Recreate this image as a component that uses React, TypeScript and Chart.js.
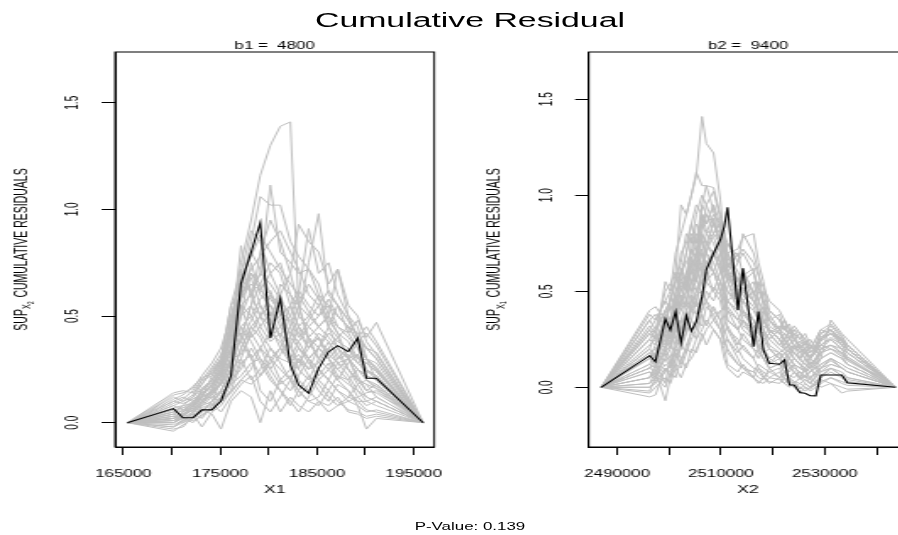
import React, { useEffect, useRef } from 'react';
import { Chart, registerables } from 'chart.js';

Chart.register(...registerables);

// horizontal stretch of the reference picture
const S = 1.69;
const FONT = "'Liberation Sans', Arial, Helvetica, sans-serif";

const mainTitle = 'Cumulative Residual';
const pValueText = 'P-Value: 0.139';

const yTicks = [0, 0.5, 1.0, 1.5];
const yTickLabels = ['0.0', '0.5', '1.0', '1.5'];

// ---------------- left panel (X1) ----------------
const leftSubtitle = 'b1 =  4800';
const leftXTitle = 'X1';
const leftYSub = ['X', '2'];
const leftXTicks = [165000, 170000, 175000, 180000, 185000, 190000, 195000];
const leftXTickLabels = ['165000', '', '175000', '', '185000', '', '195000'];

const leftX = [165400, 170170, 171150, 172180, 173110, 174150, 175080, 176110, 177150, 178200, 179140, 180180,
  181210, 182250, 183100, 184140, 185170, 186200, 187140, 188240, 189210, 190110, 191140, 195970];

const leftObserved = [0, 0.066, 0.023, 0.023, 0.06, 0.06, 0.102, 0.219, 0.653, 0.80, 0.938, 0.396,
  0.583, 0.27, 0.177, 0.138, 0.255, 0.333, 0.361, 0.333, 0.396, 0.208, 0.208, 0];

const leftSimulated = [
  [0, 0.02, 0.05, 0.08, 0.12, 0.15, 0.22, 0.45, 0.75, 0.95, 1.16, 1.3, 1.39, 1.41, 0.55, 0.38, 0.3, 0.35, 0.28, 0.3, 0.22, 0.15, 0.18, 0],
  [0, 0.14, 0.15, 0.14, 0.18, 0.25, 0.3, 0.55, 0.62, 0.85, 1.06, 1.02, 1.02, 0.85, 0.78, 0.72, 0.6, 0.55, 0.5, 0.45, 0.38, 0.35, 0.3, 0],
  [0, 0.12, 0.1, 0.13, 0.2, 0.22, 0.28, 0.4, 0.83, 0.6, 0.7, 1.114, 0.8, 0.75, 0.7, 0.72, 0.65, 0.5, 0.45, 0.42, 0.48, 0.4, 0.47, 0],
  [0, -0.03, -0.02, 0.03, 0.05, 0.1, 0.15, 0.25, 0.4, 0.55, 0.65, 0.5, 0.6, 0.7, 0.93, 0.85, 0.8, 0.65, 0.72, 0.55, 0.5, 0.38, 0.32, 0],
  [0, 0.05, 0.04, 0.06, 0.1, 0.15, 0.18, 0.3, 0.5, 0.75, 0.6, 0.55, 0.45, 0.5, 0.6, 0.91, 0.7, 0.75, 0.6, 0.5, 0.45, 0.3, 0.28, 0],
  [0, 0.03, 0.02, 0.0, 0.04, 0.06, 0.12, 0.2, 0.35, 0.45, 0.5, 0.6, 0.55, 0.4, 0.5, 0.75, 0.98, 0.6, 0.55, 0.42, 0.35, 0.3, 0.25, 0],
  [0, -0.02, 0.0, 0.05, 0.08, 0.12, 0.1, 0.18, 0.3, 0.42, 0.35, 0.3, 0.25, 0.2, 0.15, 0.1, 0.12, 0.2, 0.15, 0.1, 0.08, -0.03, 0.02, 0],
  [0, 0.01, 0.03, 0.07, 0.15, 0.2, 0.25, 0.35, 0.6, 0.7, 0.65, 0.75, 0.7, 0.55, 0.45, 0.35, 0.4, 0.3, 0.25, 0.3, 0.25, 0.22, 0.2, 0],
  [0, 0.0, 0.02, 0.04, -0.02, 0.05, 0.08, 0.15, 0.2, 0.25, 0.35, 0.42, 0.38, 0.3, 0.25, 0.4, 0.45, 0.5, 0.72, 0.5, 0.4, 0.45, 0.38, 0],
  [0, -0.04, -0.01, 0.02, 0.06, 0.04, -0.03, 0.1, 0.15, 0.12, 0.0, 0.15, 0.05, 0.12, 0.08, 0.05, 0.1, 0.08, 0.12, 0.05, 0.04, 0.02, 0.03, 0],
  [0, 0.06, 0.05, 0.1, 0.12, 0.18, 0.22, 0.45, 0.55, 0.6, 0.5, 0.45, 0.65, 0.6, 0.55, 0.5, 0.45, 0.4, 0.35, 0.3, 0.32, 0.25, 0.22, 0],
  [0, 0.02, 0.03, 0.06, 0.1, 0.08, 0.15, 0.25, 0.3, 0.2, 0.25, 0.35, 0.28, 0.2, 0.12, 0.18, 0.25, 0.2, 0.28, 0.22, 0.15, 0.1, 0.12, 0],
  [0, 0.04, 0.06, 0.05, 0.09, 0.13, 0.2, 0.35, 0.45, 0.5, 0.58, 0.62, 0.5, 0.42, 0.38, 0.3, 0.35, 0.42, 0.38, 0.35, 0.3, 0.28, 0.24, 0],
  [0, 0.08, 0.1, 0.12, 0.16, 0.2, 0.28, 0.38, 0.42, 0.3, 0.22, 0.3, 0.2, 0.25, 0.3, 0.22, 0.15, 0.1, 0.18, 0.15, 0.08, 0.05, 0.06, 0],
  [0, 0.02, 0.0, 0.02, 0.05, 0.1, 0.2, 0.3, 0.65, 0.8, 0.72, 0.6, 0.5, 0.55, 0.45, 0.4, 0.3, 0.25, 0.2, 0.28, 0.32, 0.2, 0.18, 0],
  [0, 0.0, 0.02, 0.03, 0.06, 0.08, 0.12, 0.2, 0.25, 0.35, 0.28, 0.2, 0.15, 0.1, 0.05, 0.12, 0.2, 0.25, 0.3, 0.35, 0.28, 0.3, 0.26, 0],
  [0, 0.05, 0.07, 0.1, 0.14, 0.16, 0.25, 0.4, 0.7, 0.9, 0.85, 0.7, 0.6, 0.45, 0.35, 0.3, 0.25, 0.2, 0.15, 0.12, 0.1, 0.1, 0.08, 0],
  [0, 0.1, 0.12, 0.1, 0.13, 0.18, 0.24, 0.32, 0.5, 0.55, 0.45, 0.52, 0.4, 0.55, 0.62, 0.55, 0.5, 0.55, 0.45, 0.4, 0.35, 0.25, 0.2, 0],
  [0, -0.02, 0.01, 0.04, 0.02, 0.08, 0.1, 0.15, 0.28, 0.32, 0.15, 0.1, 0.2, 0.15, 0.22, 0.3, 0.35, 0.3, 0.25, 0.2, 0.12, 0.08, 0.1, 0],
  [0, 0.03, 0.04, 0.08, 0.12, 0.14, 0.18, 0.28, 0.55, 0.4, 0.45, 0.38, 0.42, 0.35, 0.45, 0.5, 0.6, 0.45, 0.4, 0.3, 0.2, 0.15, 0.14, 0],
  [0, 0.07, 0.08, 0.09, 0.11, 0.12, 0.15, 0.22, 0.35, 0.45, 0.4, 0.3, 0.35, 0.28, 0.32, 0.25, 0.28, 0.35, 0.4, 0.45, 0.42, 0.35, 0.33, 0],
  [0, 0.01, 0.02, 0.05, 0.1, 0.16, 0.26, 0.5, 0.6, 0.68, 0.55, 0.48, 0.4, 0.3, 0.2, 0.15, 0.1, 0.05, 0.08, 0.1, 0.12, 0.14, 0.15, 0],
  [0, 0.04, 0.03, 0.06, 0.12, 0.22, 0.3, 0.45, 0.5, 0.62, 0.7, 0.65, 0.58, 0.5, 0.42, 0.35, 0.4, 0.32, 0.28, 0.25, 0.2, 0.18, 0.16, 0],
  [0, 0.02, 0.04, 0.02, 0.08, 0.1, 0.14, 0.18, 0.22, 0.28, 0.3, 0.25, 0.32, 0.4, 0.35, 0.3, 0.2, 0.15, 0.1, 0.06, 0.05, 0.03, 0.04, 0],
  [0, 0.09, 0.11, 0.15, 0.2, 0.26, 0.32, 0.42, 0.58, 0.65, 0.62, 0.7, 0.75, 0.6, 0.5, 0.45, 0.5, 0.58, 0.5, 0.45, 0.38, 0.3, 0.25, 0],
  [0, 0.13, 0.14, 0.16, 0.22, 0.28, 0.35, 0.5, 0.68, 0.78, 0.88, 0.8, 0.72, 0.65, 0.6, 0.52, 0.45, 0.5, 0.42, 0.38, 0.3, 0.28, 0.24, 0],
  [0, -0.01, 0.01, 0.03, 0.07, 0.09, 0.05, 0.12, 0.18, 0.22, 0.1, 0.05, 0.12, 0.2, 0.3, 0.25, 0.35, 0.45, 0.55, 0.48, 0.4, 0.3, 0.2, 0],
  [0, 0.05, 0.08, 0.12, 0.18, 0.24, 0.3, 0.55, 0.72, 0.6, 0.5, 0.4, 0.45, 0.38, 0.25, 0.2, 0.3, 0.38, 0.32, 0.25, 0.18, 0.12, 0.1, 0],
  [0, 0.03, 0.01, 0.04, 0.09, 0.14, 0.22, 0.35, 0.38, 0.48, 0.55, 0.45, 0.35, 0.45, 0.55, 0.65, 0.58, 0.48, 0.42, 0.3, 0.25, 0.22, 0.2, 0],
  [0, 0.06, 0.07, 0.08, 0.1, 0.15, 0.18, 0.25, 0.45, 0.38, 0.3, 0.22, 0.15, 0.08, 0.15, 0.22, 0.18, 0.12, 0.08, 0.12, 0.18, 0.2, 0.16, 0],
  [0, 0.0, 0.03, 0.08, 0.16, 0.2, 0.27, 0.42, 0.62, 0.72, 0.78, 0.85, 0.9, 0.8, 0.72, 0.6, 0.55, 0.45, 0.35, 0.25, 0.2, 0.18, 0.12, 0],
  [0, 0.1, 0.09, 0.11, 0.14, 0.17, 0.22, 0.3, 0.32, 0.42, 0.5, 0.55, 0.48, 0.35, 0.28, 0.35, 0.42, 0.38, 0.3, 0.32, 0.28, 0.24, 0.22, 0],
  [0, 0.02, 0.05, 0.09, 0.11, 0.13, 0.18, 0.28, 0.4, 0.55, 0.8, 0.95, 0.85, 0.7, 0.55, 0.4, 0.35, 0.3, 0.22, 0.18, 0.15, 0.12, 0.1, 0],
  [0, 0.04, 0.02, 0.01, 0.03, 0.07, 0.1, 0.14, 0.2, 0.18, 0.22, 0.28, 0.35, 0.3, 0.38, 0.45, 0.4, 0.3, 0.35, 0.3, 0.38, 0.42, 0.36, 0],
  [0, 0.08, 0.06, 0.09, 0.15, 0.19, 0.23, 0.38, 0.55, 0.5, 0.42, 0.35, 0.3, 0.28, 0.35, 0.28, 0.22, 0.28, 0.2, 0.15, 0.1, 0.06, 0.05, 0],
  [0, 0.01, 0.04, 0.07, 0.13, 0.18, 0.26, 0.48, 0.58, 0.7, 0.62, 0.58, 0.52, 0.48, 0.4, 0.48, 0.55, 0.62, 0.55, 0.48, 0.4, 0.35, 0.3, 0],
  [0, 0.11, 0.13, 0.17, 0.21, 0.23, 0.29, 0.33, 0.38, 0.3, 0.35, 0.25, 0.18, 0.22, 0.15, 0.1, 0.08, 0.15, 0.22, 0.2, 0.25, 0.2, 0.17, 0],
];

// ---------------- right panel (X2) ----------------
const rightSubtitle = 'b2 =  9400';
const rightXTitle = 'X2';
const rightYSub = ['X', '1'];
const rightXTicks = [2490000, 2500000, 2510000, 2520000, 2530000, 2540000];
const rightXTickLabels = ['2490000', '', '2510000', '', '2530000', ''];

const rightX = [2486920,
  2496270, 2497370, 2499290, 2500250, 2501270,
  2502310, 2503330, 2504290, 2505250, 2506350,
  2507170, 2508580, 2509870, 2510640, 2511270,
  2513270, 2514230, 2516270, 2517230, 2518190,
  2519290, 2521270, 2522230, 2523190, 2524100,
  2525250, 2526210, 2527180, 2528270, 2529230,
  2531150, 2533270, 2534350, 2543650];

const rightObserved = [0,
  0.165, 0.133, 0.356, 0.298, 0.394,
  0.232, 0.373, 0.293, 0.342, 0.472,
  0.611, 0.698, 0.767, 0.837, 0.9375,
  0.403, 0.62, 0.211, 0.394, 0.194,
  0.125, 0.12, 0.142, 0.012, 0.012,
  -0.028, -0.031, -0.044, -0.045, 0.064,
  0.064, 0.064, 0.024, 0];

const rightSimulated = [
  [0, 0.3, 0.25, 0.55, 0.5, 0.7, 0.8, 0.9, 1.0, 1.1, 1.41, 1.27, 1.22, 0.98, 0.75, 0.7, 0.6, 0.55, 0.5, 0.4, 0.35, 0.3, 0.25, 0.2, 0.22, 0.18, 0.15, 0.12, 0.1, 0.15, 0.2, 0.25, 0.2, 0.18, 0],
  [0, 0.05, 0.1, 0.3, 0.45, 0.6, 0.95, 0.9, 1.0, 1.12, 1.05, 1.05, 1.04, 0.9, 0.8, 0.7, 0.55, 0.5, 0.45, 0.4, 0.3, 0.2, 0.15, 0.1, 0.12, 0.08, 0.05, 0.04, 0.02, 0.06, 0.1, 0.15, 0.12, 0.1, 0],
  [0, 0.4, 0.42, 0.35, 0.3, 0.38, 0.45, 0.5, 0.62, 0.7, 0.8, 0.75, 0.85, 0.8, 0.72, 0.6, 0.45, 0.35, 0.25, 0.2, 0.15, 0.1, 0.05, 0.08, 0.04, 0.02, 0.05, 0.02, 0.0, 0.03, 0.05, 0.08, 0.05, 0.03, 0],
  [0, -0.05, -0.04, 0.1, 0.05, 0.15, 0.2, 0.3, 0.45, 0.6, 0.9, 0.85, 0.95, 0.7, 0.5, 0.4, 0.3, 0.35, 0.3, 0.2, 0.25, 0.2, 0.18, 0.15, 0.1, 0.12, 0.1, 0.08, 0.05, 0.08, 0.1, 0.12, 0.1, 0.08, 0],
  [0, 0.2, 0.15, 0.28, 0.35, 0.5, 0.55, 0.7, 0.85, 0.75, 0.95, 0.9, 0.8, 0.85, 0.6, 0.55, 0.65, 0.8, 0.7, 0.6, 0.45, 0.35, 0.3, 0.25, 0.2, 0.18, 0.15, 0.2, 0.22, 0.18, 0.25, 0.3, 0.25, 0.2, 0],
  [0, 0.1, 0.08, -0.07, 0.05, 0.12, 0.1, 0.18, 0.25, 0.3, 0.45, 0.55, 0.5, 0.6, 0.65, 0.7, 0.72, 0.78, 0.8, 0.65, 0.55, 0.4, 0.35, 0.3, 0.28, 0.3, 0.25, 0.28, 0.22, 0.2, 0.25, 0.28, 0.22, 0.18, 0],
  [0, 0.15, 0.18, 0.3, 0.25, 0.35, 0.4, 0.45, 0.55, 0.6, 0.7, 0.8, 0.9, 0.85, 0.75, 0.6, 0.5, 0.4, 0.3, 0.25, 0.2, 0.15, 0.12, 0.1, 0.15, 0.12, 0.1, 0.08, 0.12, 0.15, 0.2, 0.22, 0.18, 0.15, 0],
  [0, 0.02, 0.05, 0.15, 0.2, 0.3, 0.25, 0.35, 0.4, 0.5, 0.55, 0.6, 0.5, 0.45, 0.35, 0.3, 0.2, 0.15, 0.1, 0.08, 0.05, 0.03, 0.02, 0.05, 0.03, 0.01, 0.0, -0.02, 0.0, 0.02, 0.05, 0.1, 0.08, 0.05, 0],
  [0, 0.25, 0.3, 0.5, 0.54, 0.6, 0.5, 0.55, 0.65, 0.8, 0.75, 0.7, 0.65, 0.55, 0.5, 0.45, 0.4, 0.45, 0.35, 0.3, 0.28, 0.22, 0.18, 0.2, 0.15, 0.12, 0.1, 0.15, 0.12, 0.1, 0.15, 0.35, 0.28, 0.25, 0],
  [0, 0.08, 0.05, 0.12, 0.1, 0.2, 0.15, 0.2, 0.18, 0.25, 0.3, 0.35, 0.3, 0.25, 0.15, 0.1, 0.05, 0.08, 0.05, 0.02, 0.05, 0.08, 0.1, 0.05, 0.02, 0.0, -0.03, 0.0, -0.02, 0.0, 0.02, 0.05, 0.03, 0.02, 0],
  [0, 0.35, 0.3, 0.4, 0.45, 0.55, 0.65, 0.8, 0.75, 0.9, 1.0, 0.95, 0.85, 0.75, 0.7, 0.65, 0.55, 0.6, 0.5, 0.45, 0.4, 0.35, 0.3, 0.28, 0.25, 0.22, 0.2, 0.18, 0.15, 0.2, 0.22, 0.25, 0.2, 0.16, 0],
  [0, 0.12, 0.1, 0.2, 0.25, 0.3, 0.35, 0.3, 0.4, 0.45, 0.55, 0.65, 0.7, 0.6, 0.55, 0.5, 0.42, 0.38, 0.32, 0.28, 0.25, 0.28, 0.22, 0.2, 0.18, 0.22, 0.18, 0.15, 0.1, 0.12, 0.15, 0.18, 0.15, 0.12, 0],
  [0, 0.0, 0.02, 0.08, 0.12, 0.2, 0.3, 0.4, 0.5, 0.55, 0.65, 0.7, 0.6, 0.5, 0.4, 0.3, 0.25, 0.2, 0.15, 0.1, 0.08, 0.05, 0.04, 0.02, 0.05, 0.03, 0.02, 0.04, 0.02, 0.01, 0.03, 0.05, 0.02, 0.01, 0],
  [0, 0.3, 0.35, 0.45, 0.4, 0.5, 0.6, 0.65, 0.7, 0.85, 0.8, 0.75, 0.7, 0.65, 0.55, 0.5, 0.45, 0.5, 0.55, 0.45, 0.35, 0.3, 0.25, 0.22, 0.25, 0.3, 0.28, 0.25, 0.2, 0.22, 0.28, 0.3, 0.25, 0.2, 0],
  [0, -0.03, 0.0, 0.05, 0.02, 0.1, 0.05, 0.12, 0.15, 0.2, 0.25, 0.3, 0.35, 0.4, 0.3, 0.25, 0.15, 0.1, 0.05, 0.03, 0.02, 0.05, 0.08, 0.04, 0.02, 0.0, 0.02, 0.0, -0.01, 0.02, 0.0, 0.02, -0.03, -0.02, 0],
  [0, 0.18, 0.2, 0.25, 0.3, 0.4, 0.5, 0.6, 0.72, 0.65, 0.6, 0.55, 0.6, 0.7, 0.65, 0.6, 0.5, 0.45, 0.4, 0.35, 0.3, 0.25, 0.2, 0.18, 0.15, 0.2, 0.22, 0.2, 0.15, 0.18, 0.22, 0.2, 0.18, 0.15, 0],
  [0, 0.1, 0.12, 0.18, 0.22, 0.35, 0.45, 0.55, 0.6, 0.7, 0.85, 0.8, 0.75, 0.65, 0.5, 0.35, 0.3, 0.25, 0.2, 0.18, 0.15, 0.12, 0.15, 0.18, 0.12, 0.1, 0.08, 0.05, 0.08, 0.1, 0.12, 0.15, 0.12, 0.1, 0],
  [0, 0.22, 0.25, 0.35, 0.3, 0.45, 0.4, 0.5, 0.6, 0.55, 0.7, 0.65, 0.6, 0.55, 0.45, 0.4, 0.35, 0.3, 0.25, 0.3, 0.35, 0.3, 0.25, 0.2, 0.22, 0.25, 0.2, 0.15, 0.12, 0.15, 0.18, 0.2, 0.17, 0.14, 0],
  [0, 0.05, 0.08, 0.2, 0.15, 0.25, 0.2, 0.28, 0.35, 0.3, 0.4, 0.45, 0.4, 0.35, 0.25, 0.2, 0.12, 0.1, 0.08, 0.12, 0.1, 0.08, 0.05, 0.06, 0.1, 0.08, 0.05, 0.06, 0.08, 0.1, 0.08, 0.12, 0.1, 0.08, 0],
  [0, 0.28, 0.3, 0.4, 0.45, 0.55, 0.7, 0.75, 0.85, 0.95, 0.9, 0.85, 0.95, 0.85, 0.8, 0.75, 0.65, 0.7, 0.6, 0.5, 0.45, 0.35, 0.28, 0.25, 0.2, 0.15, 0.12, 0.1, 0.15, 0.2, 0.25, 0.3, 0.22, 0.2, 0],
  [0, 0.15, 0.12, 0.22, 0.28, 0.32, 0.3, 0.4, 0.45, 0.5, 0.6, 0.7, 0.8, 0.75, 0.6, 0.55, 0.4, 0.45, 0.5, 0.4, 0.3, 0.25, 0.3, 0.35, 0.3, 0.25, 0.22, 0.18, 0.2, 0.25, 0.3, 0.28, 0.25, 0.22, 0],
  [0, 0.0, 0.03, 0.1, 0.08, 0.15, 0.25, 0.35, 0.42, 0.48, 0.5, 0.45, 0.35, 0.3, 0.25, 0.18, 0.12, 0.1, 0.08, 0.05, 0.04, 0.1, 0.12, 0.08, 0.06, 0.05, 0.08, 0.06, 0.04, 0.03, 0.06, 0.1, 0.06, 0.04, 0],
  [0, 0.38, 0.35, 0.45, 0.5, 0.55, 0.6, 0.7, 0.8, 0.75, 0.85, 0.9, 0.85, 0.75, 0.65, 0.55, 0.45, 0.4, 0.35, 0.3, 0.32, 0.3, 0.28, 0.25, 0.3, 0.28, 0.25, 0.22, 0.18, 0.2, 0.25, 0.28, 0.24, 0.2, 0],
  [0, 0.1, 0.15, 0.25, 0.2, 0.3, 0.35, 0.45, 0.55, 0.5, 0.6, 0.65, 0.6, 0.5, 0.45, 0.35, 0.3, 0.35, 0.28, 0.22, 0.2, 0.15, 0.18, 0.15, 0.12, 0.15, 0.12, 0.1, 0.08, 0.12, 0.15, 0.18, 0.15, 0.12, 0],
  [0, 0.2, 0.28, 0.22, 0.35, 0.3, 0.48, 0.42, 0.65, 0.55, 0.78, 0.7, 0.88, 0.75, 0.82, 0.62, 0.7, 0.58, 0.62, 0.45, 0.5, 0.38, 0.3, 0.35, 0.25, 0.28, 0.2, 0.24, 0.18, 0.22, 0.28, 0.32, 0.26, 0.22, 0],
  [0, 0.05, 0.12, 0.02, 0.15, 0.1, 0.22, 0.18, 0.3, 0.25, 0.38, 0.32, 0.42, 0.35, 0.28, 0.32, 0.22, 0.28, 0.2, 0.15, 0.2, 0.12, 0.18, 0.1, 0.08, 0.12, 0.05, 0.1, 0.04, 0.08, 0.12, 0.15, 0.1, 0.08, 0],
  [0, 0.32, 0.28, 0.4, 0.35, 0.48, 0.42, 0.6, 0.55, 0.68, 0.62, 0.75, 0.68, 0.78, 0.6, 0.65, 0.55, 0.62, 0.48, 0.55, 0.42, 0.35, 0.38, 0.3, 0.33, 0.25, 0.28, 0.22, 0.25, 0.2, 0.26, 0.3, 0.24, 0.2, 0],
  [0, 0.12, 0.18, 0.32, 0.25, 0.42, 0.55, 0.5, 0.68, 0.62, 0.8, 0.95, 1.02, 0.88, 0.72, 0.68, 0.55, 0.48, 0.42, 0.35, 0.4, 0.28, 0.32, 0.22, 0.18, 0.22, 0.15, 0.18, 0.12, 0.15, 0.2, 0.22, 0.18, 0.14, 0],
  [0, -0.02, 0.05, 0.0, 0.08, 0.05, 0.15, 0.1, 0.2, 0.18, 0.28, 0.22, 0.3, 0.25, 0.2, 0.12, 0.08, 0.12, 0.05, 0.1, 0.06, 0.02, 0.05, 0.02, 0.0, 0.03, -0.01, 0.02, 0.0, 0.01, 0.04, 0.02, 0.0, -0.01, 0],
  [0, 0.25, 0.22, 0.35, 0.42, 0.38, 0.52, 0.58, 0.5, 0.65, 0.72, 0.62, 0.7, 0.78, 0.7, 0.75, 0.68, 0.72, 0.65, 0.58, 0.52, 0.45, 0.4, 0.35, 0.3, 0.25, 0.2, 0.18, 0.15, 0.12, 0.18, 0.22, 0.2, 0.15, 0],
  [0, 0.08, 0.05, 0.18, 0.12, 0.22, 0.35, 0.28, 0.48, 0.42, 0.62, 0.55, 0.7, 0.62, 0.55, 0.45, 0.38, 0.32, 0.28, 0.22, 0.18, 0.2, 0.15, 0.12, 0.18, 0.15, 0.12, 0.08, 0.1, 0.06, 0.1, 0.14, 0.1, 0.08, 0],
  [0, 0.18, 0.15, 0.28, 0.22, 0.32, 0.28, 0.38, 0.35, 0.45, 0.4, 0.5, 0.45, 0.55, 0.48, 0.42, 0.35, 0.4, 0.32, 0.28, 0.35, 0.3, 0.25, 0.28, 0.22, 0.2, 0.24, 0.2, 0.16, 0.2, 0.24, 0.28, 0.24, 0.2, 0],
  [0, 0.35, 0.38, 0.32, 0.48, 0.42, 0.62, 0.55, 0.72, 0.68, 0.9, 0.82, 0.78, 0.7, 0.62, 0.58, 0.48, 0.52, 0.45, 0.38, 0.42, 0.32, 0.28, 0.32, 0.26, 0.22, 0.18, 0.2, 0.15, 0.18, 0.22, 0.26, 0.22, 0.18, 0],
  [0, 0.02, 0.08, 0.15, 0.1, 0.18, 0.12, 0.22, 0.28, 0.35, 0.32, 0.42, 0.38, 0.3, 0.22, 0.25, 0.18, 0.22, 0.15, 0.2, 0.15, 0.1, 0.12, 0.08, 0.05, 0.08, 0.04, 0.06, 0.02, 0.05, 0.08, 0.1, 0.06, 0.05, 0],
  [0, 0.15, 0.22, 0.38, 0.32, 0.45, 0.6, 0.52, 0.78, 0.7, 0.95, 1.05, 0.92, 0.82, 0.7, 0.62, 0.52, 0.58, 0.45, 0.4, 0.35, 0.28, 0.22, 0.25, 0.2, 0.18, 0.14, 0.12, 0.1, 0.14, 0.18, 0.2, 0.16, 0.12, 0],
  [0, 0.28, 0.25, 0.2, 0.3, 0.25, 0.35, 0.32, 0.42, 0.38, 0.48, 0.45, 0.52, 0.48, 0.4, 0.45, 0.5, 0.55, 0.6, 0.52, 0.45, 0.4, 0.35, 0.3, 0.28, 0.32, 0.28, 0.25, 0.2, 0.25, 0.3, 0.33, 0.27, 0.22, 0],
];

type PanelSpec = {
  id: string;
  cssLeft: number;
  canvasW: number;
  boxLeft: number;
  padRight: number;
  xMin: number;
  xMax: number;
  yMin: number;
  yMax: number;
  xs: number[];
  observed: number[];
  simulated: number[][];
  xTicks: number[];
  xTickLabels: string[];
  subtitle: string;
  xTitle: string;
  ySub: string[];
};

const leftSpec: PanelSpec = {
  id: 'left', cssLeft: 0, canvasW: 266, boxLeft: 115 / S, padRight: 266 - 433.7 / S,
  xMin: 164140, xMax: 197110, yMin: -0.114, yMax: 1.738,
  xs: leftX, observed: leftObserved, simulated: leftSimulated,
  xTicks: leftXTicks, xTickLabels: leftXTickLabels,
  subtitle: leftSubtitle, xTitle: leftXTitle, ySub: leftYSub,
};

const rightSpec: PanelSpec = {
  id: 'right', cssLeft: 449, canvasW: 290, boxLeft: (588.7 - 449) / S, padRight: 290 - (907.5 - 449) / S,
  xMin: 2484520, xMax: 2545920, yMin: -0.311, yMax: 1.746,
  xs: rightX, observed: rightObserved, simulated: rightSimulated,
  xTicks: rightXTicks, xTickLabels: rightXTickLabels,
  subtitle: rightSubtitle, xTitle: rightXTitle, ySub: rightYSub,
};

function drawYTitle(ctx: CanvasRenderingContext2D, cx: number, cy: number, sub: string[], F: number) {
  const main = 'SUP';
  const rest = 'CUMULATIVE RESIDUALS';
  ctx.save();
  ctx.translate(cx, cy);
  ctx.rotate(-Math.PI / 2);
  ctx.textAlign = 'left';
  ctx.textBaseline = 'alphabetic';
  ctx.font = `${F}px ${FONT}`;
  const w1 = ctx.measureText(main).width;
  const w4 = ctx.measureText(rest).width;
  ctx.font = `${F * 0.7}px ${FONT}`;
  const w2 = ctx.measureText(sub[0]).width;
  ctx.font = `${F * 0.5}px ${FONT}`;
  const w3 = ctx.measureText(sub[1]).width;
  const gap = F * 0.35;
  const total = w1 + w2 + w3 + gap + w4;
  const base = 0.358 * F;
  let u = -total / 2;
  ctx.font = `${F}px ${FONT}`;
  ctx.fillText(main, u, base);
  u += w1;
  ctx.font = `${F * 0.7}px ${FONT}`;
  ctx.fillText(sub[0], u, base + 0.22 * F);
  u += w2;
  ctx.font = `${F * 0.5}px ${FONT}`;
  ctx.fillText(sub[1], u, base + 0.38 * F);
  u += w3 + gap;
  ctx.font = `${F}px ${FONT}`;
  ctx.fillText(rest, u, base);
  ctx.restore();
}

function decorPlugin(p: PanelSpec) {
  return {
    id: 'decor_' + p.id,
    afterDraw(chart: any) {
      const ctx: CanvasRenderingContext2D = chart.ctx;
      const a = chart.chartArea;
      const xs = chart.scales.x;
      const ys = chart.scales.y;
      const cxBox = (a.left + a.right) / 2;
      ctx.save();
      ctx.strokeStyle = '#000';
      ctx.lineWidth = 1;
      ctx.strokeRect(a.left, a.top, a.right - a.left, a.bottom - a.top);
      ctx.fillStyle = '#000';
      ctx.textAlign = 'center';
      ctx.textBaseline = 'alphabetic';
      ctx.font = `10px ${FONT}`;
      ctx.fillText(p.subtitle, cxBox, 49);
      p.xTicks.forEach((v, i) => {
        const lab = p.xTickLabels[i];
        if (lab) ctx.fillText(lab, xs.getPixelForValue(v), 476.7);
      });
      ctx.font = `10.5px ${FONT}`;
      ctx.fillText(p.xTitle, cxBox, 492.5);
      ctx.font = `10px ${FONT}`;
      yTicks.forEach((v, i) => {
        const y = ys.getPixelForValue(v);
        ctx.save();
        ctx.translate(a.left - 25.6, y);
        ctx.rotate(-Math.PI / 2);
        ctx.textAlign = 'center';
        ctx.fillText(yTickLabels[i], 0, 3.58);
        ctx.restore();
      });
      drawYTitle(ctx, a.left - 56.1, (a.top + a.bottom) / 2, p.ySub, 10.5);
      ctx.restore();
    },
  };
}

function buildConfig(p: PanelSpec): any {
  const toPts = (ys: number[]) => p.xs.map((x, i) => ({ x, y: ys[i] }));
  const datasets: any[] = [
    {
      data: toPts(p.observed),
      borderColor: '#000000',
      borderWidth: 1.1,
      pointRadius: 0,
      tension: 0,
      fill: false,
    },
    ...p.simulated.map((ys) => ({
      data: toPts(ys),
      borderColor: '#BEBEBE',
      borderWidth: 1,
      pointRadius: 0,
      tension: 0,
      fill: false,
    })),
  ];
  const axisCommon = {
    type: 'linear',
    grid: { display: true, drawOnChartArea: false, drawTicks: true, tickLength: 8, color: '#000', lineWidth: 1 },
    border: { display: true, color: '#000', width: 1 },
    ticks: { display: false },
  };
  return {
    type: 'line',
    data: { datasets },
    options: {
      animation: false,
      responsive: false,
      maintainAspectRatio: false,
      devicePixelRatio: 1,
      events: [],
      layout: { padding: { left: 0, top: 52, right: p.padRight, bottom: 0 } },
      plugins: { legend: { display: false }, tooltip: { enabled: false }, title: { display: false } },
      scales: {
        x: {
          ...axisCommon,
          position: 'bottom',
          min: p.xMin,
          max: p.xMax,
          afterBuildTicks: (s: any) => { s.ticks = p.xTicks.map((v) => ({ value: v })); },
          afterFit: (s: any) => { s.height = 88; },
        },
        y: {
          ...axisCommon,
          position: 'left',
          min: p.yMin,
          max: p.yMax,
          afterBuildTicks: (s: any) => { s.ticks = yTicks.map((v) => ({ value: v })); },
          afterFit: (s: any) => { s.width = p.boxLeft; },
        },
      },
    },
    plugins: [decorPlugin(p)],
  };
}

function Panel({ spec }: { spec: PanelSpec }) {
  const ref = useRef<HTMLCanvasElement | null>(null);
  useEffect(() => {
    const canvas = ref.current;
    if (!canvas) return;
    const chart = new Chart(canvas, buildConfig(spec));
    canvas.style.width = `${spec.canvasW * S}px`;
    canvas.style.height = '535px';
    return () => chart.destroy();
  }, [spec]);
  return (
    <canvas
      ref={ref}
      width={spec.canvasW}
      height={535}
      style={{ position: 'absolute', left: spec.cssLeft, top: 0, width: spec.canvasW * S, height: 535, display: 'block' }}
    />
  );
}

export default function App() {
  return (
    <div style={{ position: 'fixed', left: 0, top: 0, width: 898, height: 535, overflow: 'hidden', background: '#fff' }}>
      <Panel spec={leftSpec} />
      <Panel spec={rightSpec} />
      <div
        style={{
          position: 'absolute', left: 0, top: 9.6, width: 940, textAlign: 'center',
          fontFamily: FONT, fontSize: 20, lineHeight: '20px', whiteSpace: 'nowrap', color: '#000',
          transform: `scaleX(${S})`, transformOrigin: '470px 0',
        }}
      >
        {mainTitle}
      </div>
      <div
        style={{
          position: 'absolute', left: 0, top: 522.2, width: 940, textAlign: 'center',
          fontFamily: FONT, fontSize: 10, lineHeight: '10px', whiteSpace: 'nowrap', color: '#000',
          transform: `scaleX(${S})`, transformOrigin: '470px 0',
        }}
      >
        {pValueText}
      </div>
    </div>
  );
}
